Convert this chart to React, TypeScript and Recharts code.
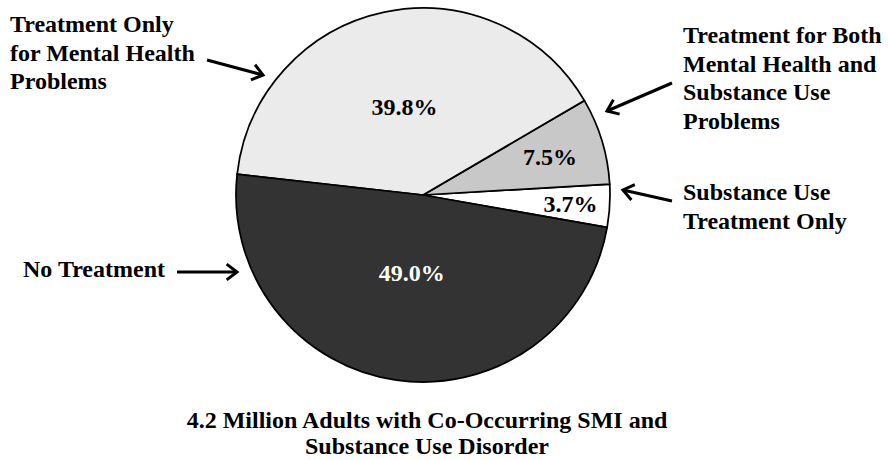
import { PieChart, Pie, Cell } from 'recharts'

// slices run counter-clockwise from just below 3 o'clock
const groups = [
  'Substance Use Treatment Only',
  'Treatment for Both Mental Health and Substance Use Problems',
  'Treatment Only for Mental Health Problems',
  'No Treatment',
]
const shares = [3.7, 7.5, 39.8, 49.0]
const titleLines = ['4.2 Million Adults with Co-Occurring SMI and', 'Substance Use Disorder']

const fills = ['#ffffff', '#c8c8c8', '#ebebeb', '#333333']
const labelInk = ['#000000', '#000000', '#000000', '#ffffff']
// how far out (fraction of radius) each percentage sits
const labelDepth = [0.79, 0.71, 0.48, 0.42]

const data = groups.map((name, i) => ({ name, value: shares[i] }))

const W = 888
const H = 460
const FONT = '"Liberation Serif", "Times New Roman", serif'
const RADIAN = Math.PI / 180

// callout text blocks and their arrows
const callouts = [
  { lines: ['Treatment Only', 'for Mental Health', 'Problems'], x: 10, y: 32, from: [207, 60], to: [263, 75] },
  {
    lines: ['Treatment for Both', 'Mental Health and', 'Substance Use', 'Problems'],
    x: 683, y: 43, from: [672, 83], to: [607, 111],
  },
  { lines: ['Substance Use', 'Treatment Only'], x: 683, y: 200, from: [672, 201], to: [623, 190] },
  { lines: ['No Treatment'], x: 23, y: 277, from: [177, 272], to: [237, 272] },
]

function renderShare(props: any) {
  const { cx, cy, midAngle, outerRadius, index } = props
  const r = outerRadius * labelDepth[index]
  const x = cx + r * Math.cos(-midAngle * RADIAN)
  const y = cy + r * Math.sin(-midAngle * RADIAN)
  return (
    <text
      x={x}
      y={y}
      fill={labelInk[index]}
      textAnchor="middle"
      dominantBaseline="central"
      fontFamily={FONT}
      fontWeight="bold"
      fontSize={24}
    >
      {shares[index].toFixed(1)}%
    </text>
  )
}

function Arrow({ from, to }: { from: number[]; to: number[] }) {
  const [x1, y1] = from
  const [x2, y2] = to
  const a = Math.atan2(y2 - y1, x2 - x1)
  const h = 13
  const spread = 0.65
  const p1 = [x2 - h * Math.cos(a - spread), y2 - h * Math.sin(a - spread)]
  const p2 = [x2 - h * Math.cos(a + spread), y2 - h * Math.sin(a + spread)]
  return (
    <g stroke="#000" strokeWidth={3} fill="none">
      <line x1={x1} y1={y1} x2={x2} y2={y2} />
      <polyline points={`${p1[0]},${p1[1]} ${x2},${y2} ${p2[0]},${p2[1]}`} strokeLinejoin="miter" />
    </g>
  )
}

export default function App() {
  return (
    <div style={{ position: 'absolute', left: 0, top: 0, width: W, height: H, background: '#fff' }}>
      <PieChart width={W} height={H} margin={{ top: 0, right: 0, bottom: 0, left: 0 }}>
        <Pie
          data={data}
          dataKey="value"
          nameKey="name"
          cx={423}
          cy={195}
          outerRadius={187}
          startAngle={-10}
          endAngle={350}
          stroke="#000"
          strokeWidth={1.75}
          label={renderShare}
          labelLine={false}
          isAnimationActive={false}
        >
          {data.map((d, i) => (
            <Cell key={d.name} fill={fills[i]} />
          ))}
        </Pie>
      </PieChart>
      <svg
        width={W}
        height={H}
        style={{ position: 'absolute', left: 0, top: 0, pointerEvents: 'none' }}
      >
        <g fontFamily={FONT} fontWeight="bold" fontSize={24} fill="#000">
          {callouts.map((c) => (
            <g key={c.lines.join(' ')}>
              <text x={c.x} y={c.y}>
                {c.lines.map((line, i) => (
                  <tspan key={line} x={c.x} dy={i === 0 ? 0 : 28.5}>
                    {line}
                  </tspan>
                ))}
              </text>
              <Arrow from={c.from} to={c.to} />
            </g>
          ))}
          <text x={427} y={428} textAnchor="middle">
            {titleLines.map((line, i) => (
              <tspan key={line} x={427} dy={i === 0 ? 0 : 26}>
                {line}
              </tspan>
            ))}
          </text>
        </g>
      </svg>
    </div>
  )
}
